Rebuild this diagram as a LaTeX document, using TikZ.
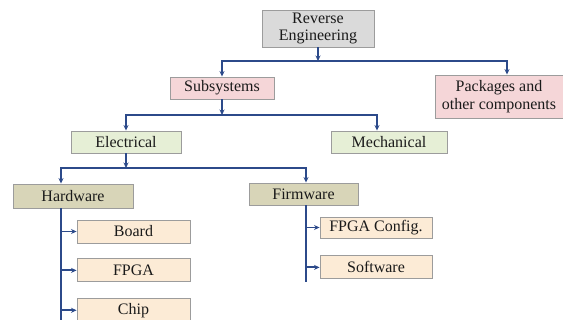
\documentclass[tikz,border=0pt]{standalone}
\usepackage{fontspec}
\setmainfont{Liberation Serif}
\usepackage{xcolor}
\usepackage{tikz}
\usetikzlibrary{arrows.meta, positioning, calc}
\definecolor{linkblue}{HTML}{2C4A8A}
\definecolor{boxline}{HTML}{9C9C9C}
\definecolor{rootfill}{HTML}{DADADA}
\definecolor{pinkfill}{HTML}{F5D6D8}
\definecolor{greenfill}{HTML}{E6EFD6}
\definecolor{tanfill}{HTML}{D8D5B8}
\definecolor{peachfill}{HTML}{FCEBD6}
\definecolor{textdark}{HTML}{1A1A1A}
\tikzset{
    treediagram/.style={>={Stealth[length=5.5pt, width=5pt]}, line width=1.9pt,
        font=\fontsize{16}{17.5}\selectfont, text=textdark, node distance=15pt},
    box/.style={draw=boxline, line width=0.9pt, align=center, inner sep=0pt, minimum height=22pt},
    rootbox/.style={box, fill=rootfill, minimum width=112pt, minimum height=37pt},
    groupbox/.style={box, fill=pinkfill},
    domainbox/.style={box, fill=greenfill},
    partbox/.style={box, fill=tanfill},
    leafbox/.style={box, fill=peachfill, minimum width=113pt, minimum height=23pt},
    link/.style={draw=linkblue},
}

\begin{document}
\begin{tikzpicture}[treediagram, x=1pt, y=-1pt]
    \useasboundingbox (0,0) rectangle (563,320);

    \node[rootbox]                                     (re)      at (318,28.5)  {Reverse\\Engineering};
    \node[groupbox, minimum width=104pt]               (subsys)  at (222,88)    {Subsystems};
    \node[groupbox, minimum width=128pt, minimum height=43pt] (pack) at (499,96.5) {Packages and\\other components};
    \node[domainbox, minimum width=110pt]              (elec)    at (126,142)   {Electrical};
    \node[domainbox, minimum width=116pt]              (mech)    at (389,142)   {Mechanical};
    \node[partbox, minimum width=120pt, minimum height=24pt] (hw) at (73,196)   {Hardware};
    \node[partbox, minimum width=109pt]                (fw)      at (303.5,194) {Firmware};
    \node[leafbox]                                     (board)   at (133.5,231.5) {Board};
    \node[leafbox, below=15pt of board]                (fpga)    {FPGA};
    \node[leafbox, below=16pt of fpga]                 (chip)    {Chip};
    \node[leafbox, minimum width=112pt, minimum height=21pt] (fpgacfg) at (376,227.5) {FPGA Config.};
    \node[leafbox, minimum width=112pt, below=17pt of fpgacfg] (soft) {Software};

    \coordinate (b1) at (0,61);
    \coordinate (b2) at (0,115);
    \coordinate (b3) at (0,168);
    \coordinate (hwend) at (61,322);
    \coordinate (fwend) at (306,282);

    % top level
    \draw[link, ->] (re) -- (re |- b1);
    \draw[link, ->] (re |- b1) -| (subsys);
    \draw[link, ->] (re |- b1) -| ([xshift=8pt]pack.north);

    % subsystems
    \draw[link, ->] (subsys) -- (subsys |- b2);
    \draw[link, ->] (subsys |- b2) -| (elec);
    \draw[link, ->] (subsys |- b2) -| ([xshift=-12pt]mech.north);

    % electrical
    \draw[link, ->] (elec) -- (elec |- b3);
    \draw[link, ->] (elec |- b3) -| ([xshift=-12pt]hw.north);
    \draw[link, ->] (elec |- b3) -| ([xshift=2.5pt]fw.north);

    % hardware and firmware lists
    \draw[link] ([xshift=-12pt]hw.south) -- (hwend);
    \foreach \n in {board, fpga, chip}
        \draw[link, ->] (hwend |- \n.west) -- (\n);
    \draw[link] ([xshift=2.5pt]fw.south) -- (fwend);
    \foreach \n in {fpgacfg, soft}
        \draw[link, ->] (fwend |- \n.west) -- (\n);
\end{tikzpicture}
\end{document}
